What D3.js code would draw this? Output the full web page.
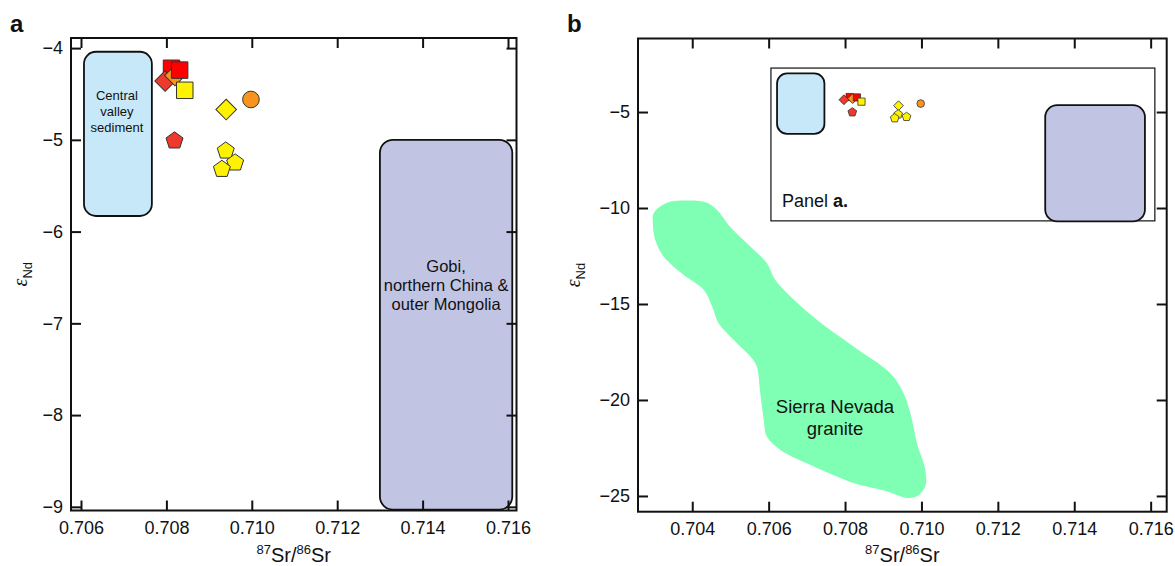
<!DOCTYPE html>
<html>
<head>
<meta charset="utf-8">
<script src="https://cdn.jsdelivr.net/npm/d3@7"></script>
<style>
  body { margin: 0; background: #fff; }
  text { font-family: "Liberation Sans", Arial, Helvetica, sans-serif; fill: #111; }
</style>
</head>
<body>
<div id="chart"></div>
<script>
// Sample values (87Sr/86Sr vs eps Nd)
const srRatio = [0.70812, 0.70797, 0.70820, 0.70831, 0.70843, 0.70940, 0.70998, 0.70819, 0.70939, 0.70961, 0.70930];
const epsNd   = [-4.22, -4.36, -4.30, -4.24, -4.46, -4.67, -4.56, -5.01, -5.12, -5.25, -5.32];
const markerShape = ["square", "diamond", "diamond", "square", "square", "diamond", "circle", "pentagon", "pentagon", "pentagon", "pentagon"];
const markerColor = ["#ff0000", "#ee3a2c", "#f7941d", "#ff0000", "#fff200", "#fff200", "#f7941d", "#ee3a2c", "#fff200", "#fff200", "#fff200"];

// source fields, panel a
const valleySr  = [0.70607, 0.70766];
const valleyEps = [-4.04, -5.83];
const gobiSr  = [0.71300, 0.71610];
const gobiEps = [-5.0, -9.03];

// panel b: schematic copy of panel a
const insetSr  = [0.70606, 0.71611];
const insetEps = [-2.71, -10.67];
const insetValleySr  = [0.70622, 0.70746];
const insetValleyEps = [-2.99, -6.14];
const insetGobiSr  = [0.71324, 0.71585];
const insetGobiEps = [-4.64, -10.70];

// Sierra Nevada granite outline
const graniteSr  = [0.70299, 0.70334, 0.70395, 0.70438, 0.70465, 0.70499, 0.70552, 0.70595, 0.70617, 0.70648,
                    0.70726, 0.70822, 0.70918, 0.70953, 0.70975, 0.70988, 0.71010, 0.71010, 0.70988, 0.70962,
                    0.70909, 0.70874, 0.70822, 0.70717, 0.70630, 0.70595, 0.70587, 0.70578, 0.70569, 0.70556,
                    0.70508, 0.70469, 0.70452, 0.70430, 0.70377, 0.70325, 0.70303, 0.70297];
const graniteEps = [-10.27, -9.72, -9.61, -9.72, -10.10, -10.97, -12.01, -12.87, -13.74, -14.43,
                    -15.82, -17.21, -18.60, -19.64, -21.02, -22.24, -23.63, -24.50, -25.02, -25.10,
                    -24.75, -24.58, -24.32, -23.45, -22.59, -21.89, -21.02, -19.64, -18.25, -17.82,
                    -16.86, -16.00, -15.13, -14.26, -13.48, -12.53, -11.66, -10.79];

// ticks
const xTicksA = [0.706, 0.708, 0.710, 0.712, 0.714, 0.716];
const yTicksA = [-4, -5, -6, -7, -8, -9];
const xTicksB = [0.704, 0.706, 0.708, 0.710, 0.712, 0.714, 0.716];
const yTicksB = [-5, -10, -15, -20, -25];

const width = 1175, height = 566;

const svg = d3.select("#chart").append("svg")
  .attr("width", width)
  .attr("height", height);

// scales
const xA = d3.scaleLinear().domain([0.705766, 0.716199]).range([71, 516.5]);
const yA = d3.scaleLinear().domain([-9.04, -3.89]).range([510.5, 38]);
const xB = d3.scaleLinear().domain([0.70258, 0.71642]).range([638, 1166.7]);
const yB = d3.scaleLinear().domain([-25.82, -1.17]).range([511.7, 38.5]);

// pentagon symbol (d3 has none)
const pentagon = {
  draw(ctx, size) {
    const r = Math.sqrt(size / 2.378);
    for (let i = 0; i < 5; i++) {
      const a = -Math.PI / 2 + i * 2 * Math.PI / 5;
      const px = r * Math.cos(a), py = r * Math.sin(a);
      if (i === 0) ctx.moveTo(px, py); else ctx.lineTo(px, py);
    }
    ctx.closePath();
  }
};

function symbolPath(shape, size) {
  const type = shape === "circle" ? d3.symbolCircle
    : shape === "pentagon" ? pentagon
    : d3.symbolSquare;
  return d3.symbol().type(type).size(size)();
}

function roundBox(g, x, y, sr, eps, fill, r, sw) {
  g.append("rect")
    .attr("x", x(sr[0]))
    .attr("y", y(eps[0]))
    .attr("width", x(sr[1]) - x(sr[0]))
    .attr("height", y(eps[1]) - y(eps[0]))
    .attr("rx", r).attr("ry", r)
    .attr("fill", fill)
    .attr("stroke", "#111")
    .attr("stroke-width", sw);
}

function drawPoints(g, x, y, sizes) {
  const pts = srRatio.map((d, i) => ({ sr: d, eps: epsNd[i], shape: markerShape[i], color: markerColor[i] }));
  g.selectAll("path.pt")
    .data(pts)
    .join("path")
    .attr("class", "pt")
    .attr("d", d => symbolPath(d.shape, sizes[d.shape]))
    .attr("transform", d => `translate(${x(d.sr)},${y(d.eps)})` + (d.shape === "diamond" ? " rotate(45)" : ""))
    .attr("fill", d => d.color)
    .attr("stroke", "#333")
    .attr("stroke-width", sizes.sw);
}

function drawFrame(g, x, y, xTicks, yTicks, titleY, labelOffset) {
  const [x0, x1] = x.range();
  const [y1, y0] = y.range();

  const bottom = g.append("g")
    .attr("transform", `translate(0,${y1})`)
    .call(d3.axisBottom(x).tickValues(xTicks).tickSize(-10).tickPadding(11).tickFormat(d3.format(".3f")));
  const top = g.append("g")
    .attr("transform", `translate(0,${y0})`)
    .call(d3.axisTop(x).tickValues(xTicks).tickSize(-10).tickFormat(""));
  const left = g.append("g")
    .attr("transform", `translate(${x0},0)`)
    .call(d3.axisLeft(y).tickValues(yTicks).tickSize(-10).tickPadding(8).tickFormat(d3.format("d")));
  const right = g.append("g")
    .attr("transform", `translate(${x1},0)`)
    .call(d3.axisRight(y).tickValues(yTicks).tickSize(-10).tickFormat(""));

  [bottom, top, left, right].forEach(a => {
    a.select(".domain").remove();
    a.selectAll(".tick line").attr("stroke", "#111").attr("stroke-width", 2);
    a.selectAll("text").attr("font-size", 18).attr("fill", "#111")
      .attr("font-family", "'Liberation Sans', Arial, sans-serif");
  });

  g.append("rect")
    .attr("x", x0).attr("y", y0)
    .attr("width", x1 - x0).attr("height", y1 - y0)
    .attr("fill", "none")
    .attr("stroke", "#111")
    .attr("stroke-width", 2);

  // x title: 87Sr/86Sr
  const t = g.append("text")
    .attr("x", (x0 + x1) / 2)
    .attr("y", titleY)
    .attr("text-anchor", "middle")
    .attr("font-size", 20);
  t.append("tspan").attr("font-size", 13).attr("dy", -8).text("87");
  t.append("tspan").attr("dy", 8).text("Sr/");
  t.append("tspan").attr("font-size", 13).attr("dy", -8).text("86");
  t.append("tspan").attr("dy", 8).text("Sr");

  // y title: eps Nd
  const yt = g.append("text")
    .attr("transform", `translate(${x0 - labelOffset},${(y0 + y1) / 2}) rotate(-90)`)
    .attr("text-anchor", "middle")
    .attr("font-size", 20);
  yt.append("tspan").attr("font-style", "italic").attr("font-family", "'Liberation Serif', serif").text("ε");
  yt.append("tspan").attr("font-size", 13).attr("dy", 5).text("Nd");
}

// ---------- panel a ----------
const gA = svg.append("g");
roundBox(gA, xA, yA, valleySr, valleyEps, "#c6e8f8", 12, 1.8);
roundBox(gA, xA, yA, gobiSr, gobiEps, "#c1c5e3", 13, 1.8);

const valleyLines = ["Central", "valley", "sediment"];
gA.selectAll("text.valley")
  .data(valleyLines)
  .join("text")
  .attr("class", "valley")
  .attr("x", (xA(valleySr[0]) + xA(valleySr[1])) / 2 - 1)
  .attr("y", (d, i) => 100 + i * 16.2)
  .attr("text-anchor", "middle")
  .attr("font-size", 13)
  .text(d => d);

const gobiLines = ["Gobi,", "northern China &", "outer Mongolia"];
gA.selectAll("text.gobi")
  .data(gobiLines)
  .join("text")
  .attr("class", "gobi")
  .attr("x", (xA(gobiSr[0]) + xA(gobiSr[1])) / 2)
  .attr("y", (d, i) => 272 + i * 19)
  .attr("text-anchor", "middle")
  .attr("font-size", 16.5)
  .text(d => d);

drawPoints(gA, xA, yA, { square: 272, diamond: 212, circle: 218, pentagon: 190, sw: 1 });
drawFrame(gA, xA, yA, xTicksA, yTicksA, 562, 44);

gA.append("text").attr("x", 10).attr("y", 31.5)
  .attr("font-size", 24).attr("font-weight", "bold").text("a");

// ---------- panel b ----------
const gB = svg.append("g");

const granite = graniteSr.map((d, i) => [d, graniteEps[i]]);
gB.append("path")
  .attr("d", d3.line().x(d => xB(d[0])).y(d => yB(d[1])).curve(d3.curveCatmullRomClosed.alpha(0.5))(granite))
  .attr("fill", "#7fffb3");

gB.selectAll("text.granite")
  .data(["Sierra Nevada", "granite"])
  .join("text")
  .attr("class", "granite")
  .attr("x", 835)
  .attr("y", (d, i) => 413 + i * 22)
  .attr("text-anchor", "middle")
  .attr("font-size", 18.5)
  .text(d => d);

gB.append("rect")
  .attr("x", xB(insetSr[0]))
  .attr("y", yB(insetEps[0]))
  .attr("width", xB(insetSr[1]) - xB(insetSr[0]))
  .attr("height", yB(insetEps[1]) - yB(insetEps[0]))
  .attr("fill", "#fff")
  .attr("stroke", "#111")
  .attr("stroke-width", 1.2);

roundBox(gB, xB, yB, insetValleySr, insetValleyEps, "#c6e8f8", 10, 1.8);
roundBox(gB, xB, yB, insetGobiSr, insetGobiEps, "#c1c5e3", 12, 1.8);

const pl = gB.append("text")
  .attr("x", xB(insetSr[0]) + 11)
  .attr("y", 207)
  .attr("font-size", 18);
pl.append("tspan").text("Panel ");
pl.append("tspan").attr("font-weight", "bold").text("a.");

drawPoints(gB, xB, yB, { square: 52, diamond: 48, circle: 46, pentagon: 50, sw: 0.8 });
drawFrame(gB, xB, yB, xTicksB, yTicksB, 562, 58);

gB.append("text").attr("x", 567).attr("y", 31.5)
  .attr("font-size", 24).attr("font-weight", "bold").text("b");
</script>
</body>
</html>
